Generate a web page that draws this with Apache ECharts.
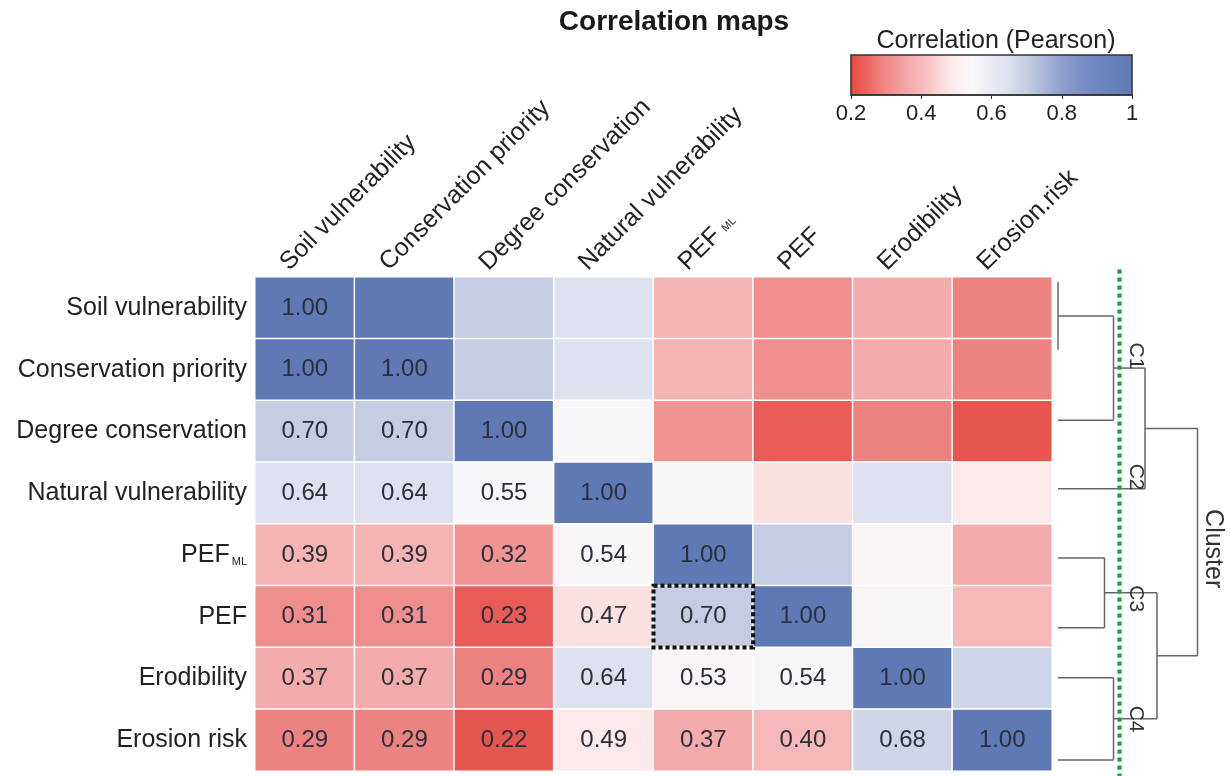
<!DOCTYPE html>
<html><head><meta charset="utf-8">
<script src="https://cdn.jsdelivr.net/npm/echarts@6/dist/echarts.min.js"></script>
<style>html,body{margin:0;padding:0;background:#fff}#c{width:1231px;height:776px}</style>
</head><body><div id="c"></div>
<script>
// ---------- data ----------
const rowLabels = ['Soil vulnerability','Conservation priority','Degree conservation','Natural vulnerability','PEF_ML','PEF','Erodibility','Erosion risk'];
const colLabels = ['Soil vulnerability','Conservation priority','Degree conservation','Natural vulnerability','PEF_ML','PEF','Erodibility','Erosion.risk'];
// lower triangle (incl. diagonal) of the Pearson correlation matrix
const rowSoilVulnerability     = [1.00];
const rowConservationPriority  = [1.00, 1.00];
const rowDegreeConservation    = [0.70, 0.70, 1.00];
const rowNaturalVulnerability  = [0.64, 0.64, 0.55, 1.00];
const rowPEFML                 = [0.39, 0.39, 0.32, 0.54, 1.00];
const rowPEF                   = [0.31, 0.31, 0.23, 0.47, 0.70, 1.00];
const rowErodibility           = [0.37, 0.37, 0.29, 0.64, 0.53, 0.54, 1.00];
const rowErosionRisk           = [0.29, 0.29, 0.22, 0.49, 0.37, 0.40, 0.68, 1.00];
const colorMin = 0.2, colorMax = 1, colorStep = 0.2;
const highlightCell = [4, 5];            // PEF_ML column, PEF row
// dendrogram (leaf positions in row units, merges: [childA, childB, height])
const dendroLeafPos = [-0.42, 0.68, 1.82, 2.93, 4.05, 5.18, 5.99, 7.32];
const dendroMerges  = [[0,1,0.00],[8,2,0.37],[9,3,0.58],[4,5,0.31],[6,7,0.37],[11,12,0.66],[10,13,0.93]];
const cutHeight = 0.41;
const clusterNames = ['C1','C2','C3','C4'];
const clusterPos   = [0.78, 2.74, 4.71, 6.66];
const clusterTitle = 'Cluster';

// ---------- styles ----------
const FONT = '"Liberation Sans", Arial, Helvetica, sans-serif';
const colorStops = ['#e5483f','#ea6866','#ee8a88','#f2a2a1','#f6b9b9','#fad6d8','#fdeef0','#f8f8fa',
                    '#e9ecf4','#dbe0ee','#c6cde3','#aab6d9','#8e9fcd','#7b90c5','#6e86bf','#6680ba','#5f79b4'];

const lowerRows = [rowSoilVulnerability,rowConservationPriority,rowDegreeConservation,rowNaturalVulnerability,
                   rowPEFML,rowPEF,rowErodibility,rowErosionRisk];
const heatData = [];
for (let r = 0; r < rowLabels.length; r++) {
  for (let c = 0; c < colLabels.length; c++) {
    const v = c <= r ? lowerRows[r][c] : lowerRows[c][r];
    heatData.push({ value: [c, r, v], label: { show: c <= r } });
  }
}
const subFmt = v => v === 'PEF_ML' ? 'PEF{s|ML}' : v;

const chart = echarts.init(document.getElementById('c'), null, { renderer: 'canvas' });
const grad = new echarts.graphic.LinearGradient(0, 0, 1, 0,
  colorStops.map((c, i) => ({ offset: i / (colorStops.length - 1), color: c })));

function renderDendro(params, api) {
  if (params.dataIndex !== 0) return;
  const nodes = dendroLeafPos.map(p => ({ h: 0, y: p }));
  const kids = [];
  const ls = { stroke: '#666', lineWidth: 1.5 };
  const seg = (a, b, style) => kids.push({ type: 'line', shape: { x1: a[0], y1: a[1], x2: b[0], y2: b[1] }, style });
  dendroMerges.forEach(m => {
    const a = nodes[m[0]], b = nodes[m[1]], h = m[2];
    [a, b].forEach(n => {
      if (h - n.h > 1e-6) seg(api.coord([n.h, n.y]), api.coord([h, n.y]), ls);
    });
    seg(api.coord([h, a.y]), api.coord([h, b.y]), ls);
    nodes.push({ h, y: (a.y + b.y) / 2 });
  });
  seg(api.coord([cutHeight, -0.62]), api.coord([cutHeight, 7.6]),
      { stroke: '#2a8f52', lineWidth: 4, lineDash: [4, 4], shadowColor: 'rgba(120,220,160,0.6)', shadowBlur: 3 });
  clusterNames.forEach((t, i) => {
    const p = api.coord([cutHeight + 0.11, clusterPos[i]]);
    kids.push({ type: 'text', x: p[0], y: p[1], rotation: -Math.PI / 2,
      style: { text: t, fontSize: 21, fontFamily: FONT, fill: '#333', align: 'center', verticalAlign: 'middle' } });
  });
  const pc = api.coord([1.03, 3.9]);
  kids.push({ type: 'text', x: pc[0], y: pc[1], rotation: -Math.PI / 2,
    style: { text: clusterTitle, fontSize: 25, fontFamily: FONT, fill: '#333', align: 'center', verticalAlign: 'middle' } });
  return { type: 'group', children: kids };
}

function renderHighlight(params, api) {
  const c = api.coord([api.value(0), api.value(1)]);
  const s = api.size([1, 1]);
  return { type: 'rect', shape: { x: c[0] - s[0] / 2, y: c[1] - s[1] / 2, width: s[0], height: s[1] },
    style: { fill: 'none', stroke: '#111', lineWidth: 4, lineDash: [4, 3] }, z2: 100 };
}

chart.setOption({
  animation: false,
  backgroundColor: '#fff',
  textStyle: { fontFamily: FONT },
  title: [
    { text: 'Correlation maps', left: 674, top: 8, textAlign: 'center', padding: 0,
      textStyle: { fontSize: 28, fontWeight: 'bold', color: '#1a1a1a', fontFamily: FONT } },
    { text: 'Correlation (Pearson)', left: 996, top: 29, textAlign: 'center', padding: 0,
      textStyle: { fontSize: 25, fontWeight: 'normal', color: '#222', fontFamily: FONT } }
  ],
  grid: [
    { left: 255, top: 277, width: 797, height: 494 },
    { left: 1058, top: 277, width: 150, height: 494 },
    { left: 851, top: 55, width: 281, height: 40, show: true, backgroundColor: grad, borderColor: '#333', borderWidth: 1.5 }
  ],
  xAxis: [
    { gridIndex: 0, type: 'category', data: colLabels, position: 'top',
      axisLine: { show: false }, axisTick: { show: false }, splitLine: { show: false },
      axisLabel: { interval: 0, rotate: -45, fontSize: 25, color: '#222', verticalAlign: 'bottom', lineHeight: 58, margin: -10,
        formatter: subFmt,
        rich: { s: { fontSize: 11, color: '#222', lineHeight: 58, verticalAlign: 'middle', padding: [6, 0, 0, 6] } } } },
    { gridIndex: 1, type: 'value', min: 0, max: 1, show: false },
    { gridIndex: 2, type: 'value', min: colorMin, max: colorMax, interval: colorStep, position: 'bottom',
      axisLine: { show: true, lineStyle: { color: '#333', width: 1.5 } },
      axisTick: { show: true, length: 4, lineStyle: { color: '#333' } },
      splitLine: { show: false },
      axisLabel: { fontSize: 22, color: '#222', margin: 8 } }
  ],
  yAxis: [
    { gridIndex: 0, type: 'category', data: rowLabels, inverse: true,
      axisLine: { show: false }, axisTick: { show: false }, splitLine: { show: false },
      axisLabel: { fontSize: 25, color: '#222', margin: 8, formatter: subFmt,
        rich: { s: { fontSize: 11, color: '#222', verticalAlign: 'bottom', padding: [0, 0, 0, 2] } } } },
    { gridIndex: 1, type: 'value', min: -0.5, max: 7.5, inverse: true, show: false },
    { gridIndex: 2, type: 'value', min: 0, max: 1, show: false }
  ],
  visualMap: { type: 'continuous', min: colorMin, max: colorMax, show: false, seriesIndex: 0, dimension: 2,
    inRange: { color: colorStops } },
  series: [
    { type: 'heatmap', xAxisIndex: 0, yAxisIndex: 0, data: heatData,
      itemStyle: { borderColor: '#fff', borderWidth: 1.5 },
      label: { fontSize: 24, color: '#2b2f3a', fontFamily: FONT, formatter: p => p.value[2].toFixed(2) },
      emphasis: { disabled: true } },
    { type: 'custom', xAxisIndex: 0, yAxisIndex: 0, data: [highlightCell], renderItem: renderHighlight, clip: false, z: 5, silent: true },
    { type: 'custom', xAxisIndex: 1, yAxisIndex: 1, data: [[0, 0]], renderItem: renderDendro, clip: false, silent: true }
  ]
});
</script>
</body></html>
